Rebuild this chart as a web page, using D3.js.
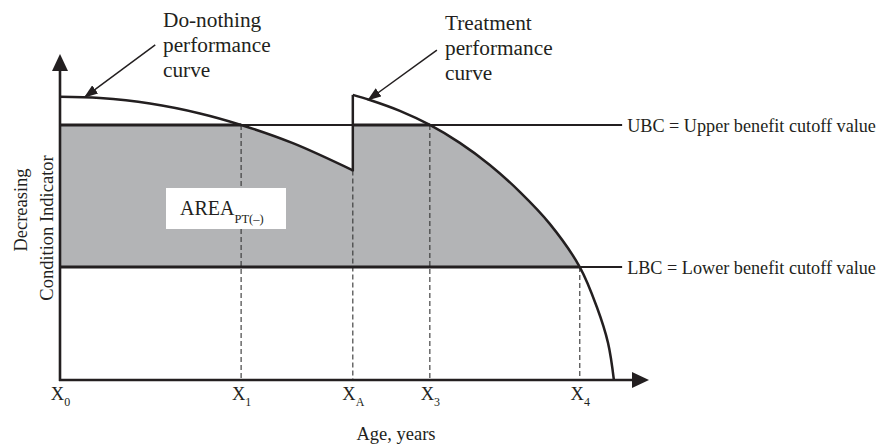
<!DOCTYPE html>
<html>
<head>
<meta charset="utf-8">
<script src="https://cdn.jsdelivr.net/npm/d3@7"></script>
<style>
  html, body { margin: 0; padding: 0; background: #fff; }
  svg { display: block; }
  text { font-family: "Liberation Serif", "Times New Roman", serif; fill: #231f20; }
</style>
</head>
<body>
<svg id="chart" width="883" height="446"></svg>
<script>
// ---- Data (abstract units: age 0..100, condition 0..100) ----
const doNothingX = [0, 6.8, 15.3, 23.8, 30.8, 39.6, 49.8];
const doNothingY = [88.5, 88.1, 86.4, 83.3, 79.7, 74.0, 65.5];
const treatmentX = [49.8, 52.7, 57.8, 62.9, 68.0, 73.1, 78.2, 83.3, 88.4, 91.3, 93.2, 94.2];
const treatmentY = [89.1, 87.5, 84.1, 79.7, 74.1, 67.2, 58.8, 48.8, 35.3, 22.8, 11.6, 0];
const cutoffNames = ["UBC = Upper benefit cutoff value", "LBC = Lower benefit cutoff value"];
const cutoffValues = [79.7, 35.3];
const tickNames = ["0", "1", "A", "3", "4"];
const tickValues = [0, 30.8, 49.8, 62.9, 88.4];
const annotationLines = [["Do-nothing", "performance", "curve"], ["Treatment", "performance", "curve"]];
const annotationTip = [[4.2, 88.4], [52.4, 87.5]];
const annotationTail = [[16.2, 104.7], [64.1, 103.1]];

const svg = d3.select("#chart");
const x = d3.scaleLinear().domain([0, 100]).range([60, 648]);
const y = d3.scaleLinear().domain([0, 100]).range([380, 60]);
const ink = "#231f20";
const lineEnd = 95.6;

const dn = doNothingX.map((v, i) => [v, doNothingY[i]]);
const tr = treatmentX.map((v, i) => [v, treatmentY[i]]);
const curve = d3.curveCatmullRom.alpha(0.5);

// clip: area under the performance curves
const defs = svg.append("defs");
const clip = defs.append("clipPath").attr("id", "under");
const areaGen = d3.area().x(d => x(d[0])).y0(y(0)).y1(d => y(d[1])).curve(curve);
clip.append("path").attr("d", areaGen(dn));
clip.append("path").attr("d", areaGen(tr));

// shaded area between LBC and UBC under curves
svg.append("rect")
  .attr("x", x(0)).attr("y", y(cutoffValues[0]))
  .attr("width", x(treatmentX[treatmentX.length - 1]) - x(0))
  .attr("height", y(cutoffValues[1]) - y(cutoffValues[0]))
  .attr("fill", "#b3b4b6")
  .attr("clip-path", "url(#under)");

// dashed verticals
const dashTop = [cutoffValues[0], doNothingY[doNothingY.length - 1], cutoffValues[0], cutoffValues[1]];
svg.selectAll(".dash").data(tickValues.slice(1)).join("line")
  .attr("x1", d => x(d)).attr("x2", d => x(d))
  .attr("y1", (d, i) => y(dashTop[i])).attr("y2", y(0))
  .attr("stroke", "#333").attr("stroke-width", 1.1).attr("stroke-dasharray", "5,3");

// cutoff lines
svg.selectAll(".cut").data(cutoffValues).join("line")
  .attr("x1", x(0)).attr("x2", x(lineEnd))
  .attr("y1", d => y(d)).attr("y2", d => y(d))
  .attr("stroke", ink).attr("stroke-width", 2);
// thicker on shaded extents
const shadeEnds = [[0, 30.8], [49.8, 62.9], [0, 88.4]];
const shadeY = [cutoffValues[0], cutoffValues[0], cutoffValues[1]];
svg.selectAll(".cutb").data(shadeEnds).join("line")
  .attr("x1", d => x(d[0])).attr("x2", d => x(d[1]))
  .attr("y1", (d, i) => y(shadeY[i])).attr("y2", (d, i) => y(shadeY[i]))
  .attr("stroke", ink).attr("stroke-width", 3);

svg.selectAll(".cutlab").data(cutoffNames).join("text")
  .attr("x", x(lineEnd) + 5).attr("y", (d, i) => y(cutoffValues[i]) + 7)
  .attr("font-size", 18.2).text(d => d);

// performance curves
const lineGen = d3.line().x(d => x(d[0])).y(d => y(d[1])).curve(curve);
svg.append("path").attr("d", lineGen(dn)).attr("fill", "none").attr("stroke", ink).attr("stroke-width", 2.5);
svg.append("path").attr("d", lineGen(tr)).attr("fill", "none").attr("stroke", ink).attr("stroke-width", 2.5);
// jump at treatment
svg.append("line")
  .attr("x1", x(treatmentX[0])).attr("x2", x(treatmentX[0]))
  .attr("y1", y(doNothingY[doNothingY.length - 1]) + 1).attr("y2", y(treatmentY[0]))
  .attr("stroke", ink).attr("stroke-width", 2.5);

// axes
svg.append("line").attr("x1", x(0)).attr("x2", x(0)).attr("y1", y(0) + 1).attr("y2", 68)
  .attr("stroke", ink).attr("stroke-width", 2.6);
svg.append("path").attr("d", `M${x(0)},54 L${x(0) - 8},71 L${x(0) + 8},71 Z`).attr("fill", ink);
svg.append("line").attr("x1", x(0) - 1).attr("x2", 636).attr("y1", y(0)).attr("y2", y(0))
  .attr("stroke", ink).attr("stroke-width", 2.6);
svg.append("path").attr("d", `M649,${y(0)} L632,${y(0) - 8} L632,${y(0) + 8} Z`).attr("fill", ink);

const xAxis = d3.axisBottom(x).tickValues(tickValues).tickSize(0).tickFormat("");
const gx = svg.append("g").attr("transform", `translate(0,${y(0)})`).call(xAxis);
gx.select(".domain").remove();
gx.selectAll(".tick").each(function (d, i) {
  const t = d3.select(this).append("text")
    .attr("y", 20).attr("text-anchor", "middle").attr("font-size", 18.5).attr("fill", ink);
  t.append("tspan").text("X");
  t.append("tspan").attr("font-size", 12).attr("dy", 6).text(tickNames[i]);
});

svg.append("text").attr("x", 396).attr("y", 440).attr("text-anchor", "middle")
  .attr("font-size", 18.5).text("Age, years");

svg.append("text").attr("transform", "translate(27,210) rotate(-90)")
  .attr("text-anchor", "middle").attr("font-size", 18.5).text("Decreasing");
svg.append("text").attr("transform", "translate(53,228) rotate(-90)")
  .attr("text-anchor", "middle").attr("font-size", 18.5).text("Condition Indicator");

// AREA label
svg.append("rect").attr("x", 166).attr("y", 188).attr("width", 120).attr("height", 41).attr("fill", "#fff");
const at = svg.append("text").attr("x", 180).attr("y", 215).attr("font-size", 20);
at.append("tspan").text("AREA");
at.append("tspan").attr("font-size", 12.5).attr("dy", 8).text("PT(–)");

// annotations
defs.append("marker").attr("id", "ah").attr("viewBox", "0 0 14 10")
  .attr("refX", 13).attr("refY", 5).attr("markerWidth", 14).attr("markerHeight", 10)
  .attr("markerUnits", "userSpaceOnUse").attr("orient", "auto")
  .append("path").attr("d", "M0,0 L14,5 L0,10 Z").attr("fill", ink);
svg.selectAll(".ann").data(annotationTip).join("line")
  .attr("x1", (d, i) => x(annotationTail[i][0])).attr("y1", (d, i) => y(annotationTail[i][1]))
  .attr("x2", d => x(d[0])).attr("y2", d => y(d[1]))
  .attr("stroke", ink).attr("stroke-width", 1.5).attr("marker-end", "url(#ah)");

const annPos = [[163, 27], [445, 30]];
annotationLines.forEach((lines, i) => {
  const t = svg.append("text").attr("font-size", 21.3);
  lines.forEach((s, j) => t.append("tspan").attr("x", annPos[i][0]).attr("y", annPos[i][1] + j * 25).text(s));
});
</script>
</body>
</html>
